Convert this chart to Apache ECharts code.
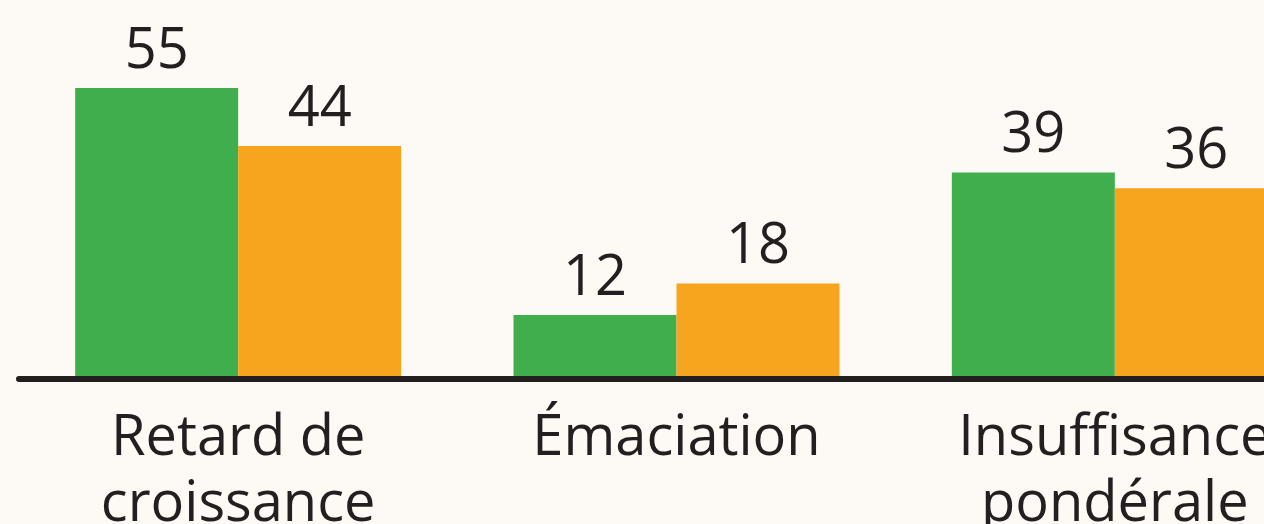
<!DOCTYPE html>
<html>
<head>
<meta charset="utf-8">
<script src="https://cdn.jsdelivr.net/npm/echarts@6/dist/echarts.min.js"></script>
<style>
html,body{margin:0;padding:0;background:#fdfaf5;}
#chart{width:1264px;height:524px;}
</style>
</head>
<body>
<div id="chart"></div>
<script>
const categories = ['Retard de\ncroissance', 'Émaciation', 'Insuffisance\npondérale'];
const seriesGreen = [55, 12, 39];
const seriesOrange = [44, 18, 36];

const chart = echarts.init(document.getElementById('chart'));
const labelStyle = {
  show: true,
  position: 'top',
  distance: 8,
  color: '#231f20',
  fontFamily: 'Open Sans',
  fontSize: 56
};
chart.setOption({
  backgroundColor: '#fdfaf5',
  animation: false,
  grid: { left: 19, width: 1315, top: 61.5, bottom: 145.5, outerBoundsMode: 'none', containLabel: false },
  xAxis: {
    type: 'category',
    data: categories,
    z: 5,
    axisLine: { show: true, lineStyle: { color: '#231f20', width: 6 } },
    axisTick: { show: false },
    axisLabel: {
      color: '#231f20',
      fontFamily: 'Open Sans',
      fontSize: 56,
      lineHeight: 66,
      margin: 28,
      interval: 0
    }
  },
  yAxis: { type: 'value', min: 0, max: 60, show: false, splitLine: { show: false } },
  series: [
    { type: 'bar', data: seriesGreen, barWidth: 163, barGap: '0%', itemStyle: { color: '#40ae4c' }, label: labelStyle },
    { type: 'bar', data: seriesOrange, barWidth: 163, barGap: '0%', itemStyle: { color: '#f7a51e' }, label: labelStyle }
  ]
});
</script>
</body>
</html>
